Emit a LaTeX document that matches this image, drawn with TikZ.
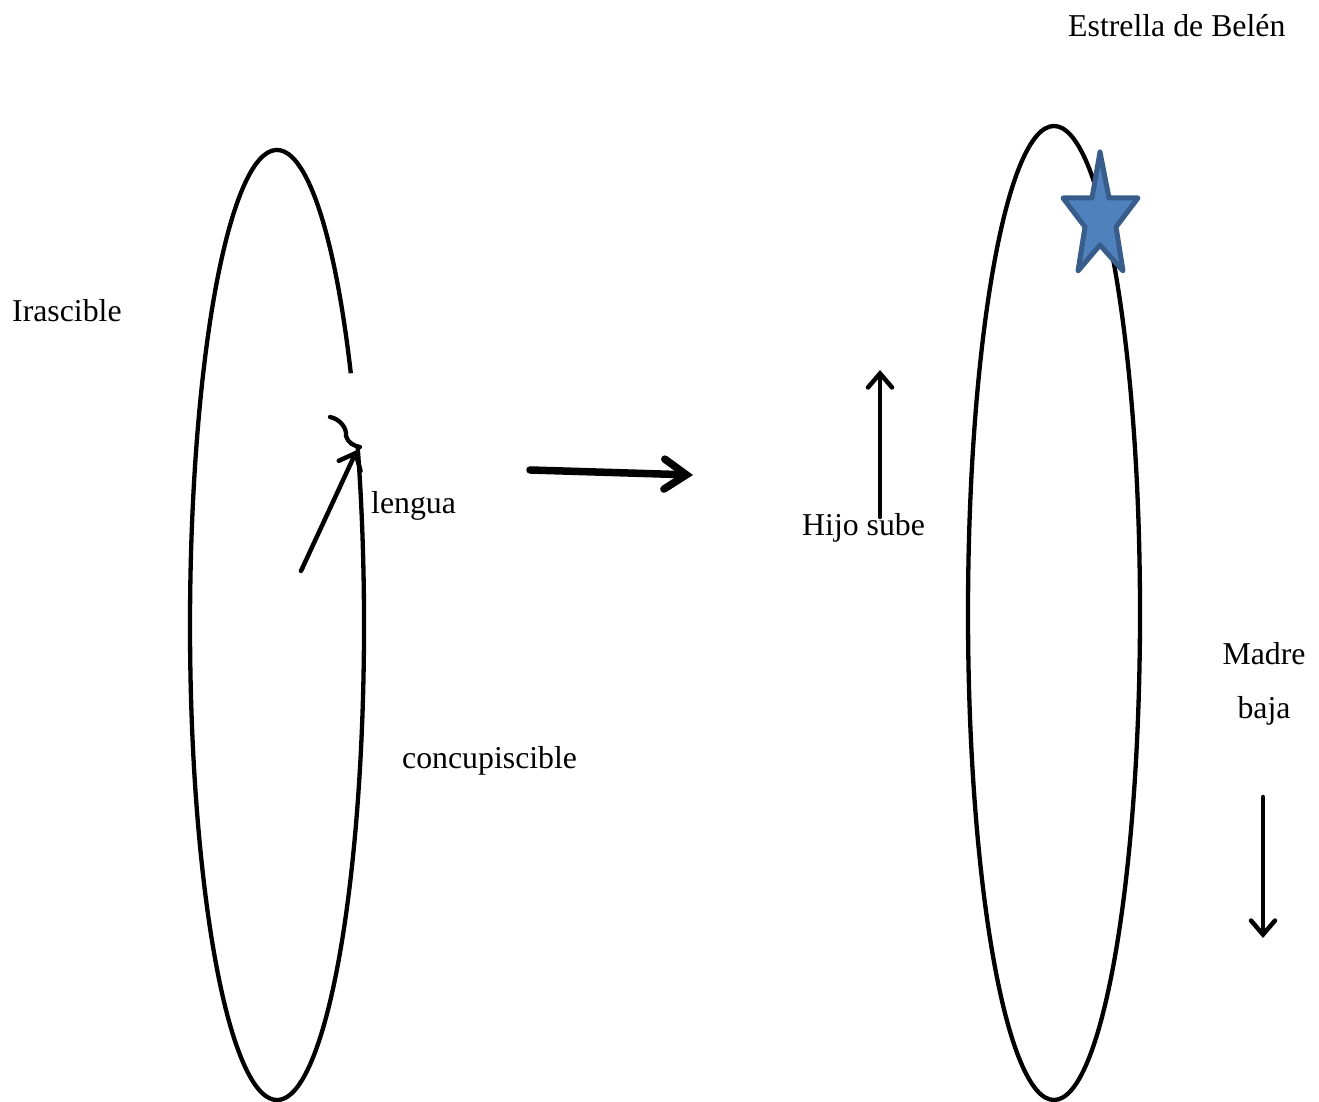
\documentclass[tikz,border=0pt]{standalone}
\usepackage{fontspec}
\setmainfont{Liberation Serif}
\usetikzlibrary{arrows.meta}
\definecolor{starfill}{HTML}{4F81BD}
\definecolor{starline}{HTML}{385D8A}
\tikzset{
  oval/.style={line width=4.3pt},
  lbl/.style={font=\fontsize{31.8}{36}\selectfont, inner sep=0pt, anchor=base west},
  thinarrow/.style={line width=4.5pt, line cap=round, -{Straight Barb[length=14pt,width=24pt,line cap=round]}},
  bigarrow/.style={line width=7.5pt, line cap=round, -{Straight Barb[length=22pt,width=30pt,line cap=round]}}
}
\begin{document}
\begin{tikzpicture}[x=1pt,y=1pt]
\useasboundingbox (0,0) rectangle (1319,1102);
% left oval with gap
\draw[oval] (350.8,728.7) arc[start angle=32, end angle=382, x radius=87pt, y radius=475pt];
\draw[oval, line cap=round] (330,685) .. controls (340,683) and (347,674) .. (346,666) .. controls (348,659) and (354,656) .. (360,655);
% right oval
\draw[oval] (1054,489) ellipse [x radius=86pt, y radius=487pt];
% star
\draw[line width=5pt, line join=round, draw=starline, fill=starfill]
  (1100,950) -- (1109,904) -- (1138,904) -- (1116,875) -- (1123,831) -- (1100,857)
  -- (1078,831) -- (1085,875) -- (1063,904) -- (1092,904) -- cycle;
% coordinates
\coordinate (la) at (301,531);
\coordinate (lb) at (357,652);
\coordinate (ba) at (530,632);
\coordinate (bb) at (693,627);
\coordinate (ha) at (880,585);
\coordinate (hb) at (880,732);
\coordinate (ma) at (1263,305);
\coordinate (mb) at (1263,164);
% arrows
\draw[thinarrow] (la) -- (lb);
\draw[bigarrow] (ba) -- (bb);
\draw[thinarrow] (ha) -- (hb);
\draw[thinarrow] (ma) -- (mb);
% labels
\node[lbl] (estrella) at (1068,1065) {Estrella de Belén};
\node[lbl] (irascible) at (12,780) {Irascible};
\node[lbl] (lengua) at (371,588) {lengua};
\node[lbl] (concu) at (402,333) {concupiscible};
\node[lbl] (hijo) at (802,566) {Hijo sube};
\node[lbl, anchor=base] (madre) at (1264,437) {Madre};
\node[lbl, anchor=base] (baja) at (1264,383) {baja};
\end{tikzpicture}
\end{document}
